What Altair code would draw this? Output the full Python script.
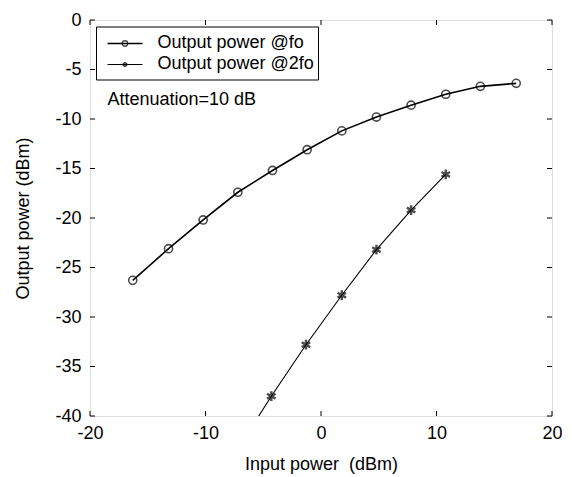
import altair as alt
import pandas as pd

# Data
x_fo = [-16.3, -13.2, -10.2, -7.2, -4.2, -1.2, 1.8, 4.8, 7.8, 10.8, 13.8, 16.9]
y_fo = [-26.3, -23.1, -20.2, -17.4, -15.2, -13.1, -11.2, -9.8, -8.6, -7.5, -6.7, -6.4]
x_2fo = [-7.3, -4.3, -1.3, 1.8, 4.8, 7.8, 10.8]
y_2fo = [-43.5, -38.0, -32.8, -27.8, -23.2, -19.2, -15.6]
x_ticks = [-20, -10, 0, 10, 20]
y_ticks = [-40, -35, -30, -25, -20, -15, -10, -5, 0]
legend_labels = ["Output power @fo", "Output power @2fo"]
annotation = "Attenuation=10 dB"

W, H = 462, 396
FONT = "Liberation Sans"
FS = 18

df_fo = pd.DataFrame({"x": x_fo, "y": y_fo})
df_2fo = pd.DataFrame({"x": x_2fo, "y": y_2fo})
df_xt = pd.DataFrame({"x": x_ticks})
df_yt = pd.DataFrame({"y": y_ticks})

xs = alt.Scale(domain=[-20, 20], nice=False)
ys = alt.Scale(domain=[-40, 0], nice=False)

common = dict(tickSize=0, domain=False, grid=False, labelFlush=False,
              labelFont=FONT, labelFontSize=FS, labelColor="black",
              labelExpr="'' + datum.value", titleFont=FONT, titleFontSize=FS,
              titleFontWeight="normal", titleColor="black")
xax = alt.Axis(values=x_ticks, labelPadding=8, title="Input power\u00a0\u00a0(dBm)",
               titlePadding=13, **common)
yax = alt.Axis(values=y_ticks, labelPadding=9, title="Output power (dBm)",
               titlePadding=22, **common)

line_fo = alt.Chart(df_fo).mark_line(color="black", strokeWidth=1.6, clip=True).encode(
    x=alt.X("x:Q", scale=xs, axis=xax), y=alt.Y("y:Q", scale=ys, axis=yax))
pts_fo = alt.Chart(df_fo).mark_point(shape="circle", color="black", filled=False,
                                     size=66, strokeWidth=1.6, clip=True).encode(
    x=alt.X("x:Q", scale=xs), y=alt.Y("y:Q", scale=ys))

ast = "M0,-1L0,1M-0.87,-0.5L0.87,0.5M-0.87,0.5L0.87,-0.5"
line_2fo = alt.Chart(df_2fo).mark_line(color="black", strokeWidth=1.1, clip=True).encode(
    x=alt.X("x:Q", scale=xs), y=alt.Y("y:Q", scale=ys))
pts_2fo = alt.Chart(df_2fo).mark_point(shape=ast, color="black", filled=False,
                                       size=95, strokeWidth=2.4, clip=True).encode(
    x=alt.X("x:Q", scale=xs), y=alt.Y("y:Q", scale=ys))

# inward ticks on all four sides
tk = dict(color="black", strokeWidth=1)
xt_bot = alt.Chart(df_xt).mark_rule(**tk).encode(
    x=alt.X("x:Q", scale=xs), y=alt.value(H), y2=alt.value(H - 5))
xt_top = alt.Chart(df_xt).mark_rule(**tk).encode(
    x=alt.X("x:Q", scale=xs), y=alt.value(0), y2=alt.value(5))
yt_l = alt.Chart(df_yt).mark_rule(**tk).encode(
    y=alt.Y("y:Q", scale=ys), x=alt.value(0), x2=alt.value(5))
yt_r = alt.Chart(df_yt).mark_rule(**tk).encode(
    y=alt.Y("y:Q", scale=ys), x=alt.value(W), x2=alt.value(W - 5))

one = pd.DataFrame({"a": [0]})
# legend
box = alt.Chart(one).mark_rect(
    fill="white", stroke="black", strokeWidth=1).encode(
    x=alt.value(6.5), x2=alt.value(228.5), y=alt.value(7), y2=alt.value(60))
leg_l1 = alt.Chart(one).mark_rule(color="black", strokeWidth=1.6).encode(
    x=alt.value(17.5), x2=alt.value(52.5), y=alt.value(23.5))
leg_l2 = alt.Chart(one).mark_rule(color="black", strokeWidth=1.1).encode(
    x=alt.value(17.5), x2=alt.value(52.5), y=alt.value(44.5))
leg_p1 = alt.Chart(one).mark_point(
    shape="circle", color="black", filled=False, size=30, strokeWidth=1.3).encode(
    x=alt.value(35), y=alt.value(23.5))
leg_p2 = alt.Chart(one).mark_point(
    shape=ast, color="black", filled=False, size=24, strokeWidth=1.8).encode(
    x=alt.value(35), y=alt.value(44.5))
leg_t1 = alt.Chart(pd.DataFrame({"t": [legend_labels[0]]})).mark_text(
    align="left", baseline="middle", font=FONT, fontSize=FS, color="black").encode(
    x=alt.value(67.5), y=alt.value(23), text="t:N")
leg_t2 = alt.Chart(pd.DataFrame({"t": [legend_labels[1]]})).mark_text(
    align="left", baseline="middle", font=FONT, fontSize=FS, color="black").encode(
    x=alt.value(67.5), y=alt.value(44), text="t:N")
ann = alt.Chart(pd.DataFrame({"t": [annotation]})).mark_text(
    align="left", baseline="middle", font=FONT, fontSize=FS, color="black").encode(
    x=alt.value(17.5), y=alt.value(80), text="t:N")

chart = alt.layer(
    line_fo, pts_fo, line_2fo, pts_2fo, xt_bot, xt_top, yt_l, yt_r,
    box, leg_l1, leg_l2, leg_p1, leg_p2, leg_t1, leg_t2, ann
).properties(
    width=W, height=H,
    autosize=alt.AutoSizeParams(type="none"),
    padding={"left": 82, "top": 12, "right": 10, "bottom": 60},
).configure_view(stroke="black", strokeWidth=1).configure(background="white")

chart.save("out.html", embed_options={"renderer": "svg", "actions": False})
